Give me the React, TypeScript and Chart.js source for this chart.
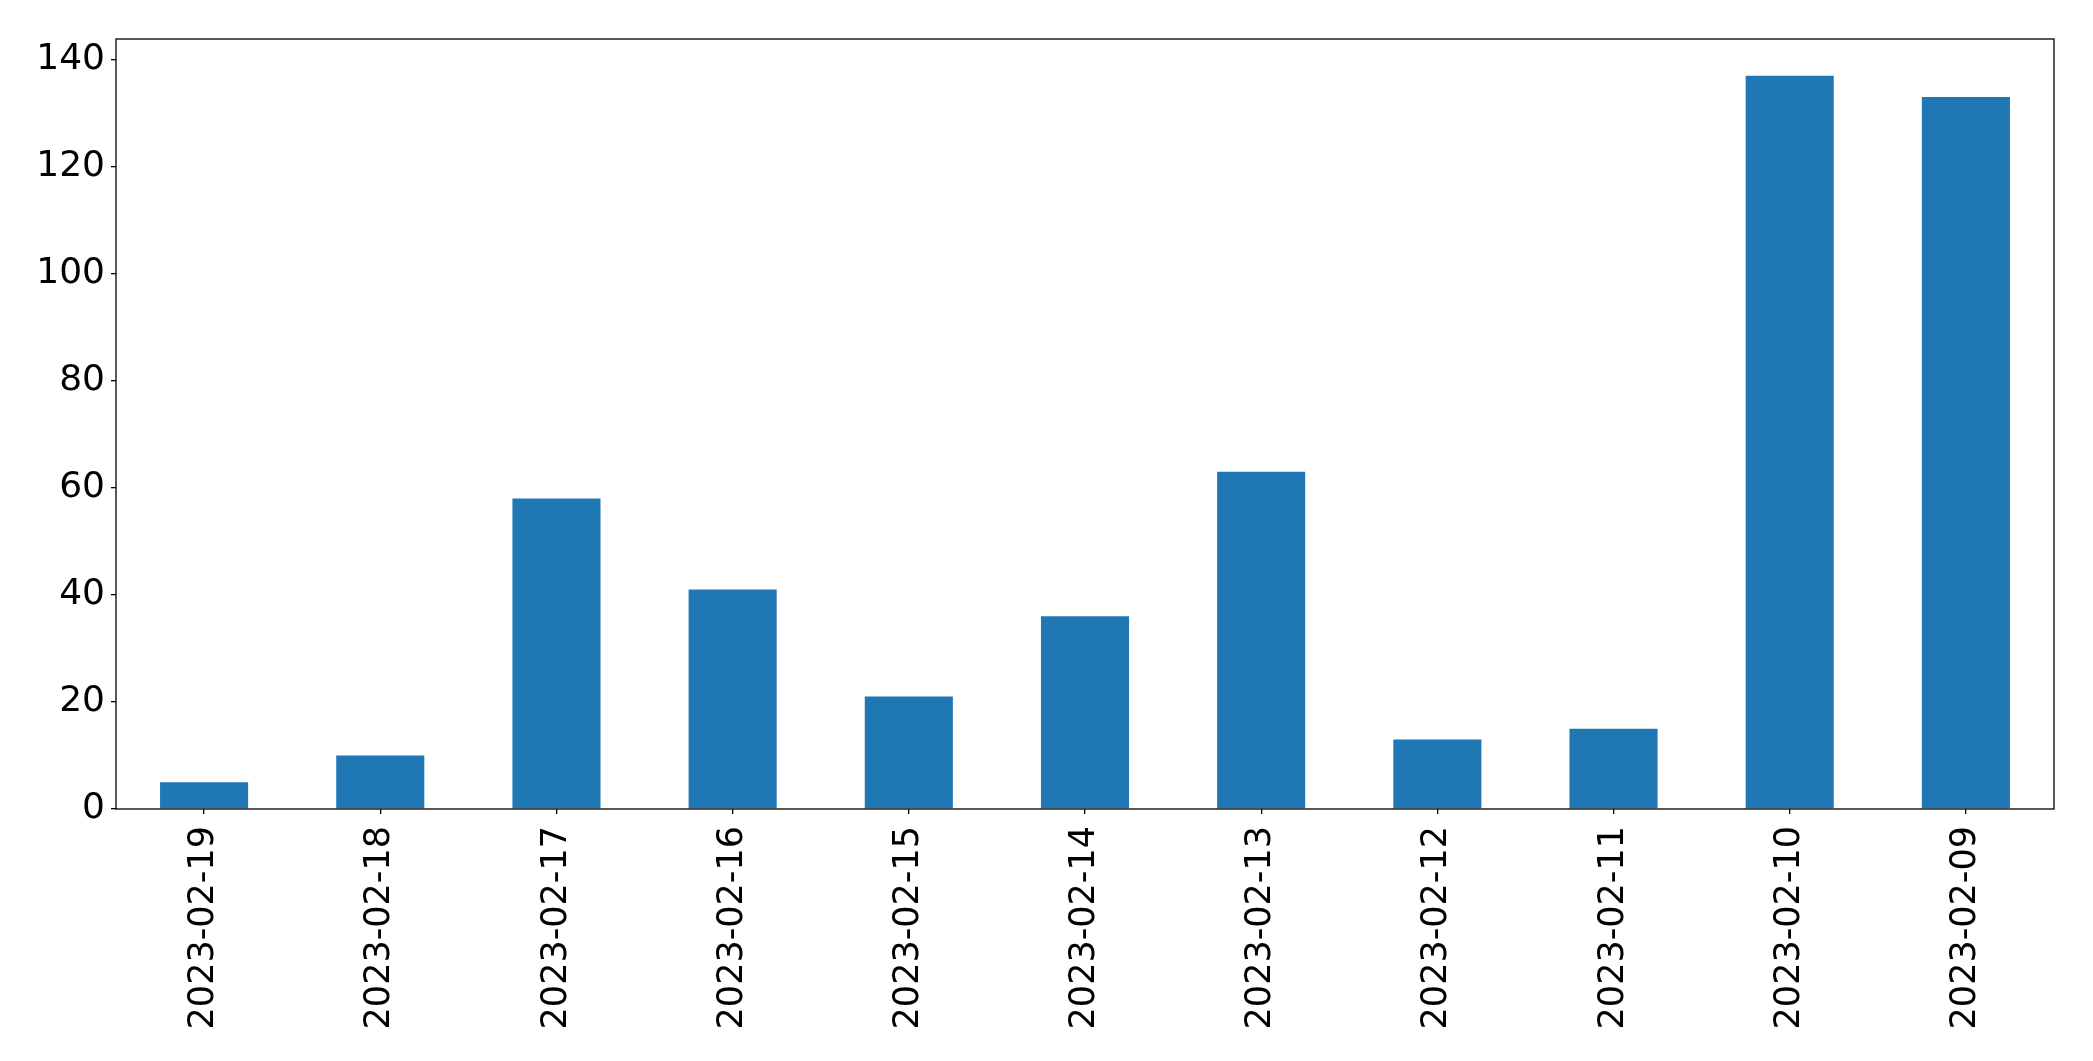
import React, { useEffect, useRef } from "react";
import { Chart, registerables } from "chart.js";

Chart.register(...registerables);

const categories = [
  "2023-02-19", "2023-02-18", "2023-02-17", "2023-02-16", "2023-02-15",
  "2023-02-14", "2023-02-13", "2023-02-12", "2023-02-11", "2023-02-10", "2023-02-09",
];
const counts = [5, 10, 58, 41, 21, 36, 63, 13, 15, 137, 133];
const yTicks = [0, 20, 40, 60, 80, 100, 120, 140];
const yMax = 143.85;

const frame = {
  id: "frame",
  afterDraw(chart: any) {
    const { ctx, chartArea } = chart;
    ctx.save();
    ctx.strokeStyle = "#000";
    ctx.lineWidth = 1.3;
    ctx.strokeRect(chartArea.left, chartArea.top, chartArea.right - chartArea.left, chartArea.bottom - chartArea.top);
    ctx.restore();
  },
};

export default function App() {
  const ref = useRef<HTMLCanvasElement | null>(null);
  useEffect(() => {
    if (!ref.current) return;
    Chart.defaults.font.family = "'DejaVu Sans'";
    const chart = new Chart(ref.current, {
      type: "bar",
      data: {
        labels: categories,
        datasets: [
          {
            data: counts,
            backgroundColor: "#1f77b4",
            borderWidth: 0,
            categoryPercentage: 1,
            barPercentage: 0.5,
          },
        ],
      },
      options: {
        animation: false,
        responsive: false,
        layout: { padding: { top: 39, right: 39, left: 0, bottom: 0 } },
        plugins: { legend: { display: false }, tooltip: { enabled: false } },
        scales: {
          x: {
            offset: true,
            border: { display: false },
            grid: { display: true, drawOnChartArea: false, drawTicks: true, tickLength: 5, color: "#000", lineWidth: 1.3, offset: false },
            ticks: { color: "#000", font: { size: 35 }, maxRotation: 90, minRotation: 90, padding: 12, autoSkip: false },
            afterFit: (s: any) => { s.height = 252; },
          },
          y: {
            min: 0,
            max: yMax,
            border: { display: false },
            grid: { display: true, drawOnChartArea: false, drawTicks: true, tickLength: 5, color: "#000", lineWidth: 1.3 },
            ticks: { color: "#000", font: { size: 36 }, padding: 6 },
            afterBuildTicks: (s: any) => { s.ticks = yTicks.map((v) => ({ value: v })); },
            afterFit: (s: any) => { s.width = 116; },
          },
        },
      },
      plugins: [frame],
    });
    return () => chart.destroy();
  }, []);
  return (
    <div style={{ position: "fixed", left: 0, top: 0, width: 2093, height: 1061, background: "#fff" }}>
      <canvas ref={ref} width={2093} height={1061} style={{ display: "block" }} />
    </div>
  );
}
